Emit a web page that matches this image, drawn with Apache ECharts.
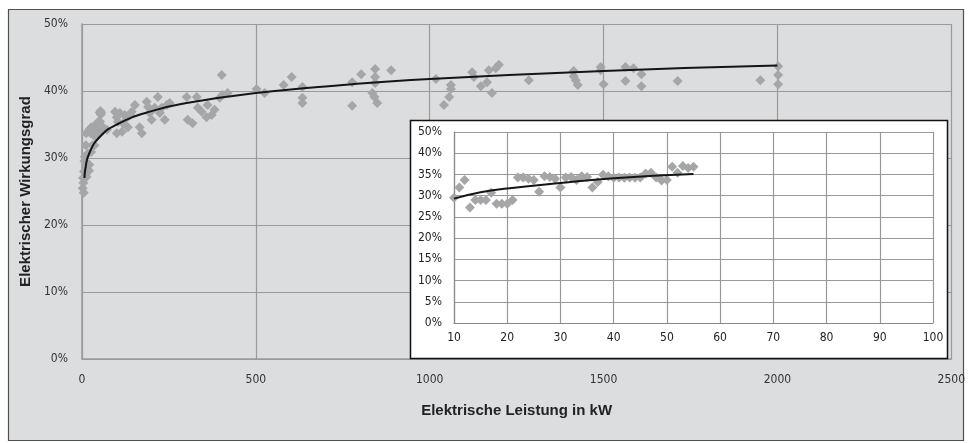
<!DOCTYPE html>
<html>
<head>
<meta charset="utf-8">
<script src="https://cdn.jsdelivr.net/npm/echarts@6/dist/echarts.min.js"></script>
<style>
html,body{margin:0;padding:0;background:#fff;}
#c{width:968px;height:443px;}
</style>
</head>
<body>
<div id="c"></div>
<script>
// ---- Data ----
// Main chart: [electrical power kW, electrical efficiency %]
const mainPoints = [
  [2,25.5],[3,27],[4,26.3],[5,24.8],[6,28],[7,29.5],[8,30.2],[9,27.8],
  [10,29.5],[11,31.9],[12,33.7],[13,27.2],[14,29],[15,29],[16,29],[17,30.7],
  [18,28.1],[19,28.1],[20,28.1],[21,29],[22,34.3],[23,34.3],[24,34],[25,33.7],
  [26,30.9],[27,34.6],[28,34.4],[29,34],[30,31.9],[31,34.3],[32,34.4],[33,33.7],
  [34,34.6],[35,34.4],[36,31.9],[37,33.2],[38,34.9],[39,34.6],[40,34.2],[42,34.2],
  [44,34.3],[46,35.2],[47,35.4],[48,34.3],[49,33.6],[50,33.7],[51,36.8],[52,35.4],
  [53,37],[54,36.5],[55,36.8],
  [60,34.6],[72,34.2],[95,36.9],[100,36.1],[109,36.7],[123,36.4],[129,36],[138,36.4],
  [143,36.9],[103,35.4],[118,35.2],[132,34.6],[115,33.9],[100,33.7],[152,37.9],
  [166,34.6],[172,33.7],[186,38.4],[190,37.6],[195,36.7],[200,35.7],[209,37.5],
  [218,39.1],[224,36.7],[229,37.5],[238,35.7],[244,37.9],[252,38.2],[301,39.1],
  [304,35.7],[318,35.2],[330,39.1],[333,37.5],[344,36.9],[361,37.9],[358,36.1],
  [373,36.4],[381,37.2],[396,39],[404,39.4],[419,39.7],[402,42.4],
  [502,40.3],[525,39.7],[580,40.9],[603,42.1],[634,40.6],[634,39],[634,38.2],
  [777,41.3],[803,42.5],[777,37.8],[843,43.3],[843,42.1],[843,41.2],[835,39.7],
  [841,39.1],[849,38.2],[889,43.1],
  [1018,41.8],[1061,40.9],[1061,40.3],[1056,39.1],[1041,37.9],[1122,42.8],[1127,42.1],
  [1147,40.7],[1170,43.1],[1190,43.4],[1199,43.9],[1165,41.3],[1179,39.7],[1285,41.6],
  [1414,43],[1414,42.2],[1420,41.6],[1426,40.9],[1492,43.6],[1492,43.1],[1500,41],
  [1563,43.6],[1586,43.4],[1563,41.5],[1609,42.5],[1609,40.7],[1713,41.5],[1951,41.6],
  [2002,43.7],[2002,42.4],[2002,41]
];
// Trend curve of the main chart
const mainTrend = [
  [7,27],[10,28.5],[20,30.6],[50,33.1],[100,35],[200,37],[300,38.2],[500,39.7],
  [750,40.9],[1000,41.8],[1500,43],[2000,43.8]
];
// Inset (10-100 kW)
const insetPoints = [
  [10,29.5],[11,31.9],[12,33.7],[13,27.2],[14,29],[15,29],[16,29],[17,30.7],
  [18,28.1],[19,28.1],[20,28.1],[21,29],[22,34.3],[23,34.3],[24,34],[25,33.7],
  [26,30.9],[27,34.6],[28,34.4],[29,34],[30,31.9],[31,34.3],[32,34.4],[33,33.7],
  [34,34.6],[35,34.4],[36,31.9],[37,33.2],[38,34.9],[39,34.6],[40,34.2],[41,34.3],
  [42,34.2],[43,34.3],[44,34.2],[45,34.3],[46,35.2],[47,35.4],[48,34.3],[49,33.6],
  [50,33.7],[51,36.8],[52,35.4],[53,37],[54,36.5],[55,36.8]
];
const insetTrend = [[10,29.3],[15,30.8],[20,31.7],[30,33],[40,34.1],[55,35.1]];
const insetYLabels = ['0%','5%','10%','15%','20%','25%','30%','35%','40%','50%'];
const xTitle = 'Elektrische Leistung in kW';
const yTitle = 'Elektrischer Wirkungsgrad';

const FONT = "'DejaVu Sans Condensed', Roboto, 'Liberation Sans', sans-serif";
const TFONT = "'Liberation Sans', Roboto, sans-serif";
const gridCol = '#9a9a9a';
const ptCol = '#a5a6a8';

const chart = echarts.init(document.getElementById('c'), null, {renderer:'canvas'});
chart.setOption({
  backgroundColor: '#ffffff',
  animation: false,
  graphic: [
    {type:'rect', z:-10, shape:{x:8.5,y:9.5,width:955,height:431},
     style:{fill:'#dcdddf', stroke:'#505050', lineWidth:1.2}},
    {type:'rect', z:5, shape:{x:410.5,y:120.5,width:537,height:238},
     style:{fill:'#ffffff', stroke:'#111', lineWidth:1.5}}
  ],
  grid: [
    {left:82, top:24, width:871, height:335, show:false},
    {left:454, top:132, width:479, height:191, show:false}
  ],
  xAxis: [
    {gridIndex:0, type:'value', min:0, max:2500, interval:500, z:1,
     name:xTitle, nameLocation:'middle', nameGap:44,
     nameTextStyle:{fontFamily:TFONT, fontWeight:'bold', fontSize:15, color:'#222'},
     axisLine:{show:true, lineStyle:{color:gridCol, width:1.5}},
     axisTick:{show:false},
     axisLabel:{margin:15, fontFamily:FONT, fontSize:12, color:'#333',
       formatter:function(v){ return String(v); }},
     splitLine:{show:true, lineStyle:{color:gridCol, width:1.2}}},
    {gridIndex:1, type:'value', min:10, max:100, interval:10, z:6,
     axisLine:{show:true, lineStyle:{color:'#888', width:1.2}},
     axisTick:{show:false},
     axisLabel:{margin:9, fontFamily:FONT, fontSize:12, color:'#222',
       formatter:function(v){ return String(v); }},
     splitLine:{show:true, lineStyle:{color:'#999', width:1.2}}}
  ],
  yAxis: [
    {gridIndex:0, type:'value', min:0, max:50, interval:10, z:1,
     name:yTitle, nameLocation:'middle', nameGap:47,
     nameTextStyle:{fontFamily:TFONT, fontWeight:'bold', fontSize:15, color:'#222'},
     axisLine:{show:true, lineStyle:{color:gridCol, width:1.5}},
     axisTick:{show:false},
     axisLabel:{margin:14, fontFamily:FONT, fontSize:12, color:'#333', formatter:'{value}%'},
     splitLine:{show:true, lineStyle:{color:gridCol, width:1.2}}},
    {gridIndex:1, type:'value', min:0, max:45, interval:5, z:6,
     axisLine:{show:true, lineStyle:{color:'#888', width:1.2}},
     axisTick:{show:false},
     axisLabel:{margin:12, fontFamily:FONT, fontSize:12, color:'#222',
       formatter:function(v){ return insetYLabels[Math.round(v/5)]; }},
     splitLine:{show:true, lineStyle:{color:'#999', width:1.2}}}
  ],
  series: [
    {type:'scatter', xAxisIndex:0, yAxisIndex:0, z:2, data:mainPoints,
     symbol:'diamond', symbolSize:10, itemStyle:{color:ptCol, opacity:1}},
    {type:'line', xAxisIndex:0, yAxisIndex:0, z:3, data:mainTrend, smooth:0.5,
     showSymbol:false, lineStyle:{color:'#151515', width:2}},
    {type:'scatter', xAxisIndex:1, yAxisIndex:1, z:7, data:insetPoints,
     symbol:'diamond', symbolSize:10, itemStyle:{color:ptCol, opacity:1}},
    {type:'line', xAxisIndex:1, yAxisIndex:1, z:8, data:insetTrend, smooth:0.5,
     showSymbol:false, lineStyle:{color:'#151515', width:2}}
  ]
});
</script>
</body>
</html>
